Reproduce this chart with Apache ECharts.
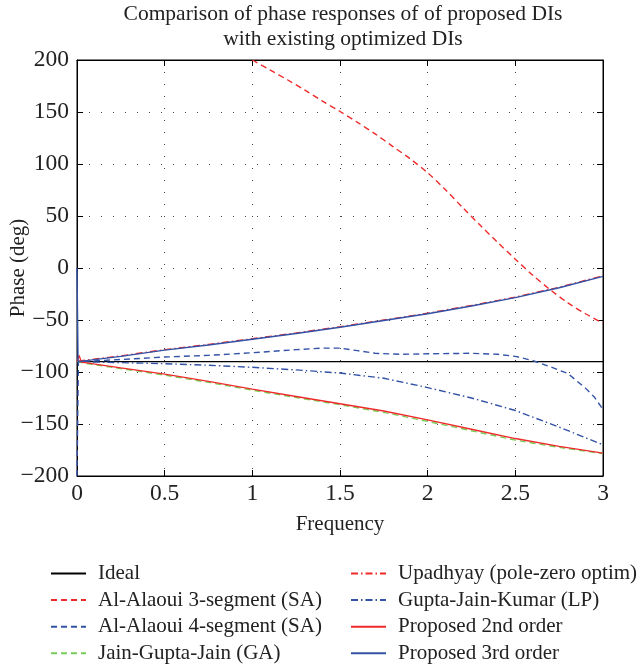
<!DOCTYPE html>
<html>
<head>
<meta charset="utf-8">
<script src="https://cdn.jsdelivr.net/npm/echarts@6/dist/echarts.min.js"></script>
<style>html,body{margin:0;padding:0;background:#fff;}#c{width:637px;height:665px;}</style>
</head>
<body>
<div id="c"></div>
<script>
// ---- data ----
const xTicks = [0, 0.5, 1, 1.5, 2, 2.5, 3];
const yTicks = [-200, -150, -100, -50, 0, 50, 100, 150, 200];

const seriesNames = [
  'Ideal',
  'Al-Alaoui 3-segment (SA)',
  'Al-Alaoui 4-segment (SA)',
  'Jain-Gupta-Jain (GA)',
  'Upadhyay (pole-zero optim)',
  'Gupta-Jain-Kumar (LP)',
  'Proposed 2nd order',
  'Proposed 3rd order'
];

const freqIdeal = [0, 3];
const phaseIdeal = [-90, -90];

const freqAlaoui3 = [1.0, 1.1, 1.2, 1.3, 1.4, 1.5, 1.6, 1.7, 1.8, 1.9, 2.0, 2.1, 2.2, 2.3, 2.4, 2.5, 2.6, 2.7, 2.8, 2.9, 3.0];
const phaseAlaoui3 = [200, 190.5, 181, 171, 160.5, 150.5, 140, 129, 117, 105, 91.5, 75.5, 58, 41, 24.5, 8.5, -7, -21, -33.5, -44, -53];

const freqAlaoui4 = [0, 0.008, 0.25, 0.5, 0.75, 1.0, 1.25, 1.4, 1.5, 1.6, 1.7, 1.85, 2.0, 2.25, 2.4, 2.5, 2.6, 2.7, 2.8, 2.9, 2.95, 3.0];
const phaseAlaoui4 = [-200, -90, -88, -85.6, -84, -81.5, -78.5, -77, -77, -79.5, -82, -83, -82.5, -82, -83, -85, -89, -95, -101.5, -115.5, -124, -136];

const freqJGJ = [0, 0.012, 0.025, 0.25, 0.5, 0.75, 1.0, 1.25, 1.5, 1.75, 2.0, 2.25, 2.5, 2.75, 3.0];
const phaseJGJ = [-90, -90, -91, -96.8, -103, -110, -117.5, -124.5, -131.5, -138.8, -147.5, -156.5, -165.5, -172.5, -178.5];

const freqUpadhyay = [0.006, 0.25, 0.5, 0.75, 1.0, 1.25, 1.5, 1.75, 2.0, 2.25, 2.5, 2.75, 3.0];
const phaseUpadhyay = [-89.5, -84.5, -78.5, -73.5, -68, -62.5, -56.5, -50, -43.5, -36, -28, -18.5, -7.5];

const freqGJK = [0.008, 0.25, 0.5, 0.75, 1.0, 1.25, 1.5, 1.75, 2.0, 2.25, 2.5, 2.75, 3.0];
const phaseGJK = [-90, -91, -92, -93.5, -95.5, -98, -101, -106, -115, -125, -137, -153, -170];

const freqProp2 = [0, 0.012, 0.025, 0.25, 0.5, 0.75, 1.0, 1.25, 1.5, 1.75, 2.0, 2.25, 2.5, 2.75, 3.0];
const phaseProp2 = [-90, -84, -90.5, -96, -102, -109, -116.5, -123.5, -130.5, -137.5, -146, -155, -164, -171.5, -178];

const freqProp3 = [0, 0.006, 0.25, 0.5, 0.75, 1.0, 1.25, 1.5, 1.75, 2.0, 2.25, 2.5, 2.75, 3.0];
const phaseProp3 = [0, -90, -85, -79, -74, -68.5, -63, -57, -50.5, -44, -36.5, -28.5, -19, -8];

// ---- styling ----
const RED = '#ee2a2a', BLUE = '#3352a6', GREEN = '#77cc55', BLACK = '#000';
const FONT = 'Liberation Serif';
const DASH = [6, 4];
const DASHDOT = [7, 3, 1.5, 3];

function zip(xs, ys) { return xs.map((x, i) => [x, ys[i]]); }
function mk(name, xs, ys, color, type, z, smooth) {
  return {
    name, type: 'line', data: zip(xs, ys), symbol: 'none', smooth: smooth || false,
    lineStyle: { color, width: 1.4, type }, itemStyle: { color },
    animation: false, z: z, clip: true
  };
}
const minus = v => String(v).replace('-', '\u2212');

const legendCommon = {
  orient: 'vertical', top: 563, padding: 0,
  itemWidth: 35, itemHeight: 20, itemGap: 5.6,
  itemStyle: { opacity: 0 },
  textStyle: { fontFamily: FONT, fontSize: 21, color: '#222', padding: [0, 0, 0, 7] }
};

const chart = echarts.init(document.getElementById('c'), null, { renderer: 'canvas' });
const option = {
  backgroundColor: '#fff',
  animation: false,
  title: {
    text: 'Comparison of phase responses of of proposed DIs\nwith existing optimized DIs',
    left: 338, top: -3, textAlign: 'center',
    textStyle: { fontFamily: FONT, fontSize: 21.5, fontWeight: 'normal', color: '#222', lineHeight: 25 }
  },
  grid: { left: 77, right: 34, top: 60, bottom: 189, containLabel: false, outerBoundsMode: 'none',
          show: true, borderColor: '#000', borderWidth: 1, backgroundColor: 'transparent' },
  legend: [
    Object.assign({}, legendCommon, { data: seriesNames.slice(0, 4), left: 50 }),
    Object.assign({}, legendCommon, { data: seriesNames.slice(4), left: 350 })
  ],
  xAxis: [
    {
      type: 'value', min: xTicks[0], max: xTicks[xTicks.length - 1], interval: xTicks[1] - xTicks[0],
      name: 'Frequency', nameLocation: 'middle', nameGap: 37.5, nameMoveOverlap: false,
      nameTextStyle: { fontFamily: FONT, fontSize: 21, color: '#222' },
      axisLine: { show: true, onZero: false, lineStyle: { color: '#000', width: 1 } },
      axisTick: { show: true, inside: true, length: 6, lineStyle: { color: '#000' } },
      axisLabel: { fontFamily: FONT, fontSize: 23.5, color: '#222', margin: 6, formatter: minus },
      splitLine: { show: true, lineStyle: { type: [1, 11], color: '#444', width: 1 } }
    },
    {
      type: 'value', position: 'top', min: xTicks[0], max: xTicks[xTicks.length - 1], interval: xTicks[1] - xTicks[0],
      axisLine: { show: true, onZero: false, lineStyle: { color: '#000' } },
      axisTick: { show: true, inside: true, length: 6, lineStyle: { color: '#000' } },
      axisLabel: { show: false }, splitLine: { show: false }
    }
  ],
  yAxis: [
    {
      type: 'value', min: yTicks[0], max: yTicks[yTicks.length - 1], interval: yTicks[1] - yTicks[0],
      name: 'Phase (deg)', nameLocation: 'middle', nameGap: 48, nameMoveOverlap: false,
      nameTextStyle: { fontFamily: FONT, fontSize: 21, color: '#222' },
      axisLine: { show: true, onZero: false, lineStyle: { color: '#000', width: 1 } },
      axisTick: { show: true, inside: true, length: 6, lineStyle: { color: '#000' } },
      axisLabel: { fontFamily: FONT, fontSize: 23.5, color: '#222', margin: 8, formatter: minus },
      splitLine: { show: true, lineStyle: { type: [1, 11], color: '#444', width: 1 } }
    },
    {
      type: 'value', position: 'right', min: yTicks[0], max: yTicks[yTicks.length - 1], interval: yTicks[1] - yTicks[0],
      axisLine: { show: true, onZero: false, lineStyle: { color: '#000' } },
      axisTick: { show: true, inside: true, length: 6, lineStyle: { color: '#000' } },
      axisLabel: { show: false }, splitLine: { show: false }
    }
  ],
  series: [
    mk(seriesNames[0], freqIdeal, phaseIdeal, BLACK, 'solid', 2),
    mk(seriesNames[1], freqAlaoui3, phaseAlaoui3, RED, DASH, 3, 0.3),
    mk(seriesNames[2], freqAlaoui4, phaseAlaoui4, BLUE, DASH, 4),
    mk(seriesNames[3], freqJGJ, phaseJGJ, GREEN, DASH, 5),
    mk(seriesNames[4], freqUpadhyay, phaseUpadhyay, RED, DASHDOT, 6),
    mk(seriesNames[5], freqGJK, phaseGJK, BLUE, DASHDOT, 7),
    mk(seriesNames[6], freqProp2, phaseProp2, RED, 'solid', 8),
    mk(seriesNames[7], freqProp3, phaseProp3, BLUE, 'solid', 9)
  ]
};
chart.setOption(option);
</script>
</body>
</html>
